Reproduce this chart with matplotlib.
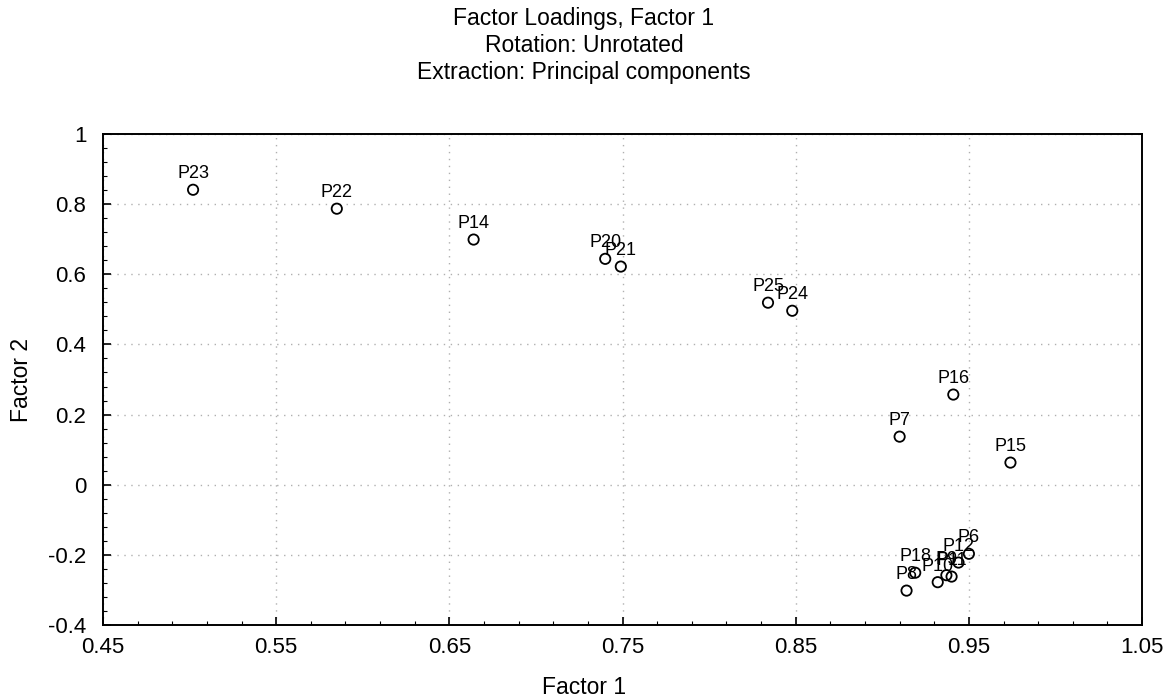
import matplotlib.pyplot as plt
from matplotlib.ticker import FixedLocator, MultipleLocator, FuncFormatter

plt.rcParams['font.family'] = ['Liberation Sans', 'DejaVu Sans']

# Factor loadings
labels = ['P23', 'P22', 'P14', 'P20', 'P21', 'P25', 'P24', 'P16', 'P7', 'P15',
          'P6', 'P12', 'P11', 'P9', 'P10', 'P18', 'P8']
factor1 = [0.502, 0.585, 0.664, 0.740, 0.749, 0.834, 0.848, 0.941, 0.910, 0.974,
           0.950, 0.944, 0.940, 0.937, 0.932, 0.919, 0.914]
factor2 = [0.841, 0.787, 0.699, 0.644, 0.622, 0.519, 0.496, 0.257, 0.137, 0.063,
           -0.197, -0.222, -0.262, -0.258, -0.278, -0.251, -0.302]

xticks = [0.45, 0.55, 0.65, 0.75, 0.85, 0.95, 1.05]
yticks = [-0.4, -0.2, 0, 0.2, 0.4, 0.6, 0.8, 1]

fig = plt.figure(figsize=(11.68, 6.99), dpi=100)
ax = fig.add_axes([0.0882, 0.1059, 0.8896, 0.7024])

ax.scatter(factor1, factor2, s=55, facecolors='none', edgecolors='black',
           linewidths=1.3, zorder=3)
for name, x, y in zip(labels, factor1, factor2):
    ax.annotate(name, (x, y), xytext=(0, 16), textcoords='offset pixels',
                ha='center', va='center', fontsize=13, zorder=4)

ax.set_xlim(0.45, 1.05)
ax.set_ylim(-0.4, 1.0)
ax.xaxis.set_major_locator(FixedLocator(xticks))
ax.xaxis.set_minor_locator(MultipleLocator(0.02, offset=0.01))
ax.yaxis.set_major_locator(FixedLocator(yticks))
ax.yaxis.set_minor_locator(MultipleLocator(0.04))
ax.xaxis.set_major_formatter(FuncFormatter(lambda v, p: f'{v:.2f}'))
ax.yaxis.set_major_formatter(FuncFormatter(lambda v, p: f'{v:g}' if abs(v) > 1e-9 else '0'))

ax.tick_params(which='both', direction='in', top=False, right=False, labelsize=16)
ax.tick_params(which='major', length=6, width=1.2, pad=9)
ax.tick_params(which='minor', length=3, width=0.8)
ax.tick_params(axis='y', pad=12)

ax.grid(True, which='major', linestyle=(0, (1, 4)), color='#b0b0b0', linewidth=1.0)
for sp in ax.spines.values():
    sp.set_linewidth(1.4)

fig.text(0.5, 1 - 18 / 699, 'Factor Loadings, Factor 1', ha='center', va='center', fontsize=16.5)
fig.text(0.5, 1 - 46 / 699, 'Rotation: Unrotated', ha='center', va='center', fontsize=16.5)
fig.text(0.5, 1 - 72 / 699, 'Extraction: Principal components', ha='center', va='center', fontsize=16.5)
fig.text(0.5, 1 - 688 / 699, 'Factor 1', ha='center', va='center', fontsize=16.5)
fig.text(22 / 1168, 1 - 380 / 699, 'Factor 2', ha='center', va='center', rotation=90, fontsize=16.5)

fig.savefig('out.png', dpi=100)
